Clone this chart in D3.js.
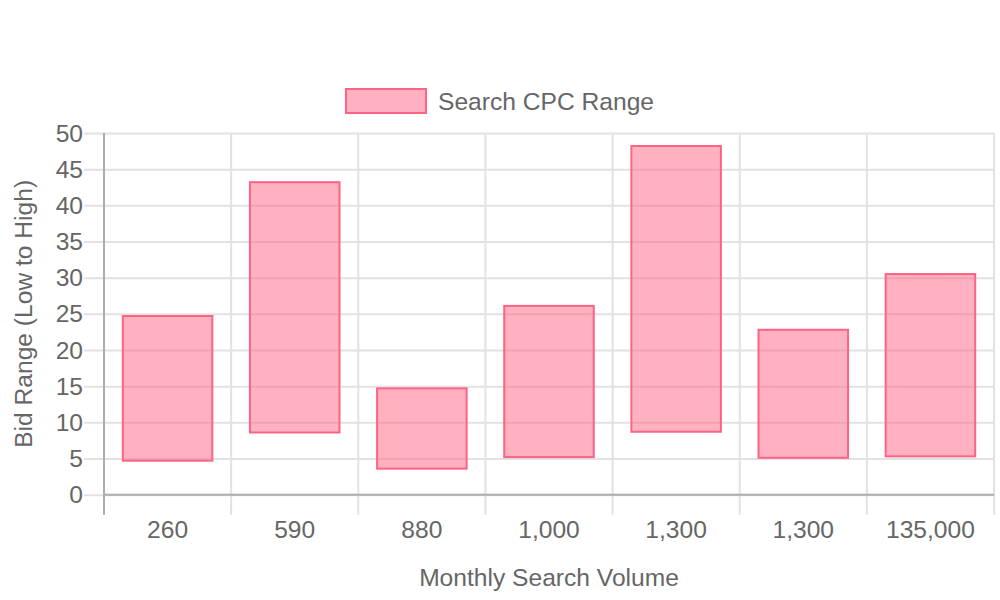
<!DOCTYPE html>
<html>
<head>
<meta charset="utf-8">
<script src="https://cdn.jsdelivr.net/npm/d3@7"></script>
<style>
  html, body { margin: 0; padding: 0; background: #fff; }
  svg { display: block; font-family: "Liberation Sans", Arial, Helvetica, sans-serif; }
</style>
</head>
<body>
<svg id="chart" width="1000" height="600"></svg>
<script>
const categories = ["260", "590", "880", "1,000", "1,300", "1,300", "135,000"];
const lowValues  = [4.7, 8.6, 3.6, 5.2, 8.7, 5.1, 5.3];
const highValues = [24.7, 43.2, 14.7, 26.1, 48.2, 22.8, 30.5];
const yTicks = [0, 5, 10, 15, 20, 25, 30, 35, 40, 45, 50];
const seriesName = "Search CPC Range";
const xTitle = "Monthly Search Volume";
const yTitle = "Bid Range (Low to High)";

(function () {
const svg = d3.select("#chart");
const pLeft = 104, pRight = 994, pTop = 133, pBottom = 494.7;
const tickLen = 20;
const fs = 24.6;
const textColor = "#666";
const gridColor = "#e2e2e2";
const axisColor = "#adadad";
const barFill = "rgba(255,99,132,0.5)";
const barStroke = "rgb(255,99,132)";

const x = d3.scaleBand().domain(categories.map((c, i) => i)).range([pLeft, pRight]).paddingInner(0).paddingOuter(0);
const y = d3.scaleLinear().domain([0, 50]).range([pBottom, pTop]);

// horizontal grid lines + y tick marks
const yAxis = d3.axisLeft(y).tickValues(yTicks).tickSize(-(pRight - pLeft)).tickSizeOuter(0).tickPadding(0).tickFormat("");
const gy = svg.append("g").attr("transform", `translate(${pLeft},0)`).call(yAxis);
gy.select(".domain").remove();
gy.selectAll(".tick line").attr("stroke", gridColor).attr("stroke-width", 2).attr("x1", -tickLen);

// y labels
svg.append("g").selectAll("text").data(yTicks).join("text")
  .attr("x", pLeft - tickLen - 1)
  .attr("y", d => y(d))
  .attr("dy", "0.35em")
  .attr("text-anchor", "end")
  .attr("font-size", fs)
  .attr("fill", textColor)
  .text(d => d);

// vertical grid lines at category boundaries
const boundaries = d3.range(categories.length + 1).map(i => pLeft + i * x.bandwidth());
svg.append("g").selectAll("line").data(boundaries).join("line")
  .attr("x1", d => d).attr("x2", d => d)
  .attr("y1", pTop).attr("y2", pBottom + tickLen)
  .attr("stroke", gridColor).attr("stroke-width", 2);

// bars
const bw = x.bandwidth() * 0.72;
svg.append("g").selectAll("rect").data(categories.map((c, i) => i)).join("rect")
  .attr("x", i => x(i) + (x.bandwidth() - bw) / 2 + 1)
  .attr("width", bw - 2)
  .attr("y", i => y(highValues[i]))
  .attr("height", i => y(lowValues[i]) - y(highValues[i]))
  .attr("fill", barFill)
  .attr("stroke", barStroke)
  .attr("stroke-width", 2);

// axis lines
svg.append("line").attr("x1", pLeft).attr("x2", pLeft).attr("y1", pTop).attr("y2", pBottom + tickLen)
  .attr("stroke", axisColor).attr("stroke-width", 2);
svg.append("line").attr("x1", pLeft).attr("x2", pRight).attr("y1", y(0)).attr("y2", y(0))
  .attr("stroke", axisColor).attr("stroke-width", 2);

// x labels
svg.append("g").selectAll("text").data(categories.map((c, i) => i)).join("text")
  .attr("x", i => x(i) + x.bandwidth() / 2)
  .attr("y", 529)
  .attr("dy", "0.35em")
  .attr("text-anchor", "middle")
  .attr("font-size", fs)
  .attr("fill", textColor)
  .text(i => categories[i]);

// axis titles
svg.append("text").attr("x", 549).attr("y", 577).attr("dy", "0.35em")
  .attr("text-anchor", "middle").attr("font-size", fs).attr("fill", textColor).text(xTitle);
svg.append("text").attr("transform", `translate(23,${(pTop + pBottom) / 2}) rotate(-90)`).attr("dy", "0.35em")
  .attr("text-anchor", "middle").attr("font-size", fs).attr("fill", textColor).text(yTitle);

// legend
svg.append("rect").attr("x", 346).attr("y", 89).attr("width", 80).attr("height", 24)
  .attr("fill", barFill).attr("stroke", barStroke).attr("stroke-width", 2);
svg.append("text").attr("x", 438).attr("y", 101).attr("dy", "0.35em")
  .attr("font-size", fs).attr("fill", textColor).text(seriesName);
})();
</script>
</body>
</html>
